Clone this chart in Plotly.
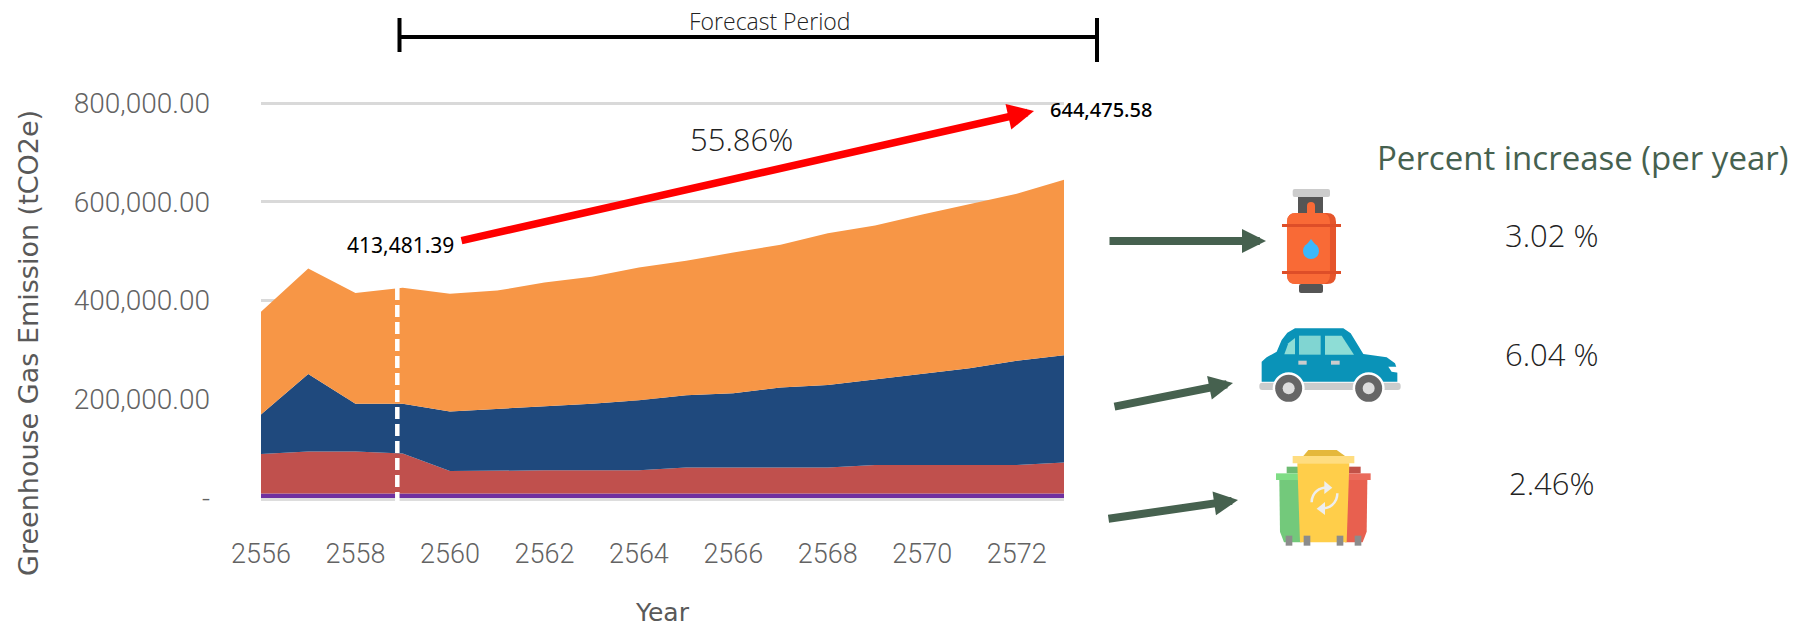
import plotly.graph_objects as go

W, H = 1804, 628

# Emissions by source, tCO2e
years = list(range(2556, 2574))
other = [9000] * 18
waste = [80000, 85000, 85000, 81000, 45500, 47000, 47000, 47000, 47000,
         53000, 53000, 53000, 53000, 58000, 58000, 58000, 58000, 63000]
vehicles = [80000, 157000, 97000, 101000, 120500, 124000, 130000, 135000, 142000,
            146000, 150000, 162000, 167000, 173000, 184000, 196000, 211000, 217000]
lpg = [208000, 214000, 224400, 235000, 238481.39, 240000, 250600, 257000, 268800,
       272600, 285000, 289000, 307000, 312000, 323000, 332500, 338000, 355475.58]

x_ticks = list(range(2556, 2574, 2))
y_ticks = [0, 200000, 400000, 600000, 800000]
y_labels = ["-", "200,000.00", "400,000.00", "600,000.00", "800,000.00"]

ORANGE, NAVY, RED, PURPLE = "#F79646", "#1F497D", "#C0504D", "#7030A0"
GREEN = "#46614F"
TICK_GREY = "#636363"
THIN = "Roboto, sans-serif"
BODY = "Open Sans, sans-serif"
NOTE = "Noto Sans, sans-serif"
WIDE = "DejaVu Sans, sans-serif"

# The value axis runs slightly past its top tick so that gridline stays drawn
Y_MAX = 810000
Y_BASE_PX, Y_800K_PX = 498, 103
Y_TOP_PX = Y_BASE_PX - (Y_BASE_PX - Y_800K_PX) * Y_MAX / 800000


def px(x):
    return x / W


def py(y):
    return 1 - y / H


def path(points, close=True):
    """Polygon through pixel points, given in page coordinates."""
    d = "M " + " L ".join(f"{px(x):.5f} {py(y):.5f}" for x, y in points)
    return d + (" Z" if close else "")


shapes = []


def poly(points, fill):
    shapes.append(dict(type="path", xref="paper", yref="paper", path=path(points),
                       fillcolor=fill, line=dict(width=0)))


def box(x0, y0, x1, y1, fill):
    poly([(x0, y0), (x1, y0), (x1, y1), (x0, y1)], fill)


def rounded(x0, y0, x1, y1, r, fill):
    """Rectangle with quadratic corners of radius r."""
    def p(x, y):
        return f"{px(x):.5f} {py(y):.5f}"
    d = (f"M {p(x0 + r, y0)} L {p(x1 - r, y0)} Q {p(x1, y0)} {p(x1, y0 + r)} "
         f"L {p(x1, y1 - r)} Q {p(x1, y1)} {p(x1 - r, y1)} "
         f"L {p(x0 + r, y1)} Q {p(x0, y1)} {p(x0, y1 - r)} "
         f"L {p(x0, y0 + r)} Q {p(x0, y0)} {p(x0 + r, y0)} Z")
    shapes.append(dict(type="path", xref="paper", yref="paper", path=d,
                       fillcolor=fill, line=dict(width=0)))


def disc(cx, cy, r, fill):
    shapes.append(dict(type="circle", xref="paper", yref="paper",
                       x0=px(cx - r), x1=px(cx + r), y0=py(cy + r), y1=py(cy - r),
                       fillcolor=fill, line=dict(width=0)))


def rule(x0, y0, x1, y1, color, width, dash=None):
    shapes.append(dict(type="line", xref="paper", yref="paper",
                       x0=px(x0), x1=px(x1), y0=py(y0), y1=py(y1),
                       line=dict(color=color, width=width, dash=dash)))


def curve(d, color, width):
    """Open cubic stroke: d is a list of (cmd, x, y) triples in page coordinates."""
    s = " ".join(f"{c} {px(x):.5f} {py(y):.5f}" if c else f"{px(x):.5f} {py(y):.5f}"
                 for c, x, y in d)
    shapes.append(dict(type="path", xref="paper", yref="paper", path=s,
                       line=dict(color=color, width=width)))


# Start-of-forecast marker and the forecast period bracket
rule(397.3, 288, 397.3, 503, "white", 4.5, "12px,5px")
rule(399, 37, 1097, 37, "black", 4)
rule(399.5, 18, 399.5, 52, "black", 4)
rule(1097, 18, 1097, 62, "black", 4)


# Gas cylinder icon
def gas_icon():
    rounded(1292.7, 189, 1330, 197, 2, "#CCCCCC")
    box(1298, 197, 1323, 215, "#555555")
    rounded(1307, 202, 1315, 218, 4, "#F96A36")
    rounded(1287, 213, 1336, 284, 9, "#E5552B")
    rounded(1287, 213, 1330, 284, 9, "#F96A36")
    box(1282, 224, 1341, 227, "#DE4E28")
    box(1282, 271, 1341, 274, "#DE4E28")
    rounded(1299, 284, 1323, 293, 2, "#555555")
    disc(1311, 251, 8, "#3BB8FC")
    poly([(1311, 239), (1304, 248), (1318, 248)], "#3BB8FC")


# Car icon
def car_icon():
    ox, oy = 1080, 310

    def m(pts):
        return [(ox + x / 3, oy + y / 3) for x, y in pts]

    (bx0, by0), (bx1, by1) = m([(538, 218), (962, 240)])
    rounded(bx0, by0, bx1, by1, 3, "#CCCCCC")
    poly(m([(545, 215), (545, 155), (560, 142), (590, 125), (605, 90), (622, 68), (645, 55),
            (790, 55), (812, 70), (850, 132), (920, 142), (945, 160), (952, 180), (952, 215)]),
         "#0A93B8")
    poly(m([(613, 133), (625, 100), (645, 84), (645, 133)]), "#8EDDD6")
    poly(m([(657, 77), (722, 77), (722, 134), (657, 134)]), "#80D5D2")
    poly(m([(735, 77), (785, 77), (822, 134), (735, 134)]), "#8EDDD6")
    poly(m([(655, 152), (680, 152), (680, 164), (655, 164)]), "#CCCCCC")
    poly(m([(753, 152), (779, 152), (779, 164), (753, 164)]), "#CCCCCC")
    poly(m([(925, 170), (955, 170), (955, 188), (935, 185)]), "white")
    for cx in (626, 866):
        (wx, wy), = m([(cx, 235)])
        disc(wx, wy, 16, "white")
        disc(wx, wy, 13.5, "#666666")
        disc(wx, wy, 6, "#DDDDDD")


# Recycling bins icon
def bin_icon():
    ox, oy = 1080, 310

    def m(pts):
        return [(ox + x / 3, oy + y / 3) for x, y in pts]

    def b(x0, y0, x1, y1, fill):
        poly(m([(x0, y0), (x1, y0), (x1, y1), (x0, y1)]), fill)

    b(620, 470, 660, 490, "#6DBB72")
    b(588, 490, 660, 510, "#7FDD85")
    poly(m([(598, 510), (665, 510), (665, 697), (612, 697), (600, 665)]), "#73C97B")
    b(800, 470, 842, 490, "#C25248")
    b(800, 490, 872, 510, "#EA6B5C")
    poly(m([(800, 510), (862, 510), (860, 665), (848, 697), (795, 697)]), "#E8604F")
    poly(m([(670, 438), (685, 420), (770, 420), (795, 438)]), "#E5B83C")
    b(638, 438, 823, 460, "#FFDD80")
    poly(m([(652, 460), (808, 460), (800, 697), (660, 697)]), "#FFCE4A")
    for x0 in (617, 671, 770, 824):
        b(x0, 677, x0 + 20, 707, "#8C8C8C")
    arc1 = m([(695, 577), (695, 548), (718, 530), (748, 533)])
    curve([("M", *arc1[0]), ("C", *arc1[1]), ("", *arc1[2]), ("", *arc1[3])], "#EEEEEE", 2.5)
    poly(m([(733, 513), (757, 533), (733, 552)]), "#EEEEEE")
    arc2 = m([(772, 550), (772, 580), (748, 598), (718, 595)])
    curve([("M", *arc2[0]), ("C", *arc2[1]), ("", *arc2[2]), ("", *arc2[3])], "#EEEEEE", 2.5)
    poly(m([(735, 576), (710, 596), (735, 615)]), "#EEEEEE")


gas_icon()
car_icon()
bin_icon()


def label(text, x, y, size, color="#222222", family=BODY, anchor="center", weight=400, **kw):
    return dict(text=text, x=px(x), y=py(y), xref="paper", yref="paper", showarrow=False,
                xanchor=anchor, yanchor="middle",
                font=dict(size=size, color=color, family=family, weight=weight), **kw)


def arrow(x0, y0, x1, y1, color, width, size):
    return dict(x=px(x1), y=py(y1), xref="paper", yref="paper",
                ax=x0 - x1, ay=y0 - y1, axref="pixel", ayref="pixel", text="",
                showarrow=True, arrowhead=2, arrowwidth=width, arrowsize=size, arrowcolor=color)


annotations = [
    label("Forecast Period", 770, 21, 23, weight=300),
    label("55.86%", 741, 139, 31, weight=300),
    label("413,481.39", 400, 245, 21, "black", NOTE),
    label("644,475.58", 1048, 109, 20, "black", NOTE, anchor="left", weight=500),
    label("Percent increase (per year)", 1582, 157, 33, GREEN),
    label("3.02 %", 1552, 235, 31, weight=300),
    label("6.04 %", 1552, 354, 31, weight=300),
    label("2.46%", 1552, 483, 31, weight=300),
    label("Year", 662, 612, 25, "#595959", WIDE),
    label("Greenhouse Gas Emission (tCO2e)", 28, 343, 27, "#595959", WIDE, textangle=-90),
    arrow(460, 241, 1034, 111, "#FF0000", 7.5, 0.7),
    arrow(1108, 241, 1266, 241, GREEN, 8, 0.6),
    arrow(1113, 407, 1233, 383, GREEN, 8, 0.6),
    arrow(1107, 519, 1238, 500, GREEN, 8, 0.6),
]

fig = go.Figure()
for name, values, color in [("Other", other, PURPLE), ("Waste", waste, RED),
                            ("Vehicles", vehicles, NAVY), ("LPG", lpg, ORANGE)]:
    fig.add_trace(go.Scatter(x=years, y=values, name=name, mode="lines", stackgroup="one",
                             line=dict(width=0, color=color), fillcolor=color))

fig.update_layout(
    width=W, height=H, margin=dict(l=0, r=0, t=0, b=0, autoexpand=False),
    paper_bgcolor="white", plot_bgcolor="white", showlegend=False,
    shapes=shapes, annotations=annotations,
    xaxis=dict(domain=[px(261), px(1064)], range=[2556, 2573], tickmode="array",
               tickvals=x_ticks, showgrid=False, zeroline=False, showline=True,
               linecolor="#DDDDDD", linewidth=3, ticks="", ticklabelstandoff=30,
               tickfont=dict(size=27, color=TICK_GREY, family=THIN, weight=300)),
    yaxis=dict(domain=[py(Y_BASE_PX), py(Y_TOP_PX)], range=[0, Y_MAX], tickmode="array",
               tickvals=y_ticks, ticktext=y_labels, showgrid=True, gridcolor="#D9D9D9",
               gridwidth=3, zeroline=False, showline=False, ticks="", ticklabelstandoff=50,
               tickfont=dict(size=28, color=TICK_GREY, family=THIN, weight=300)),
)

fig.write_html("out.html")
